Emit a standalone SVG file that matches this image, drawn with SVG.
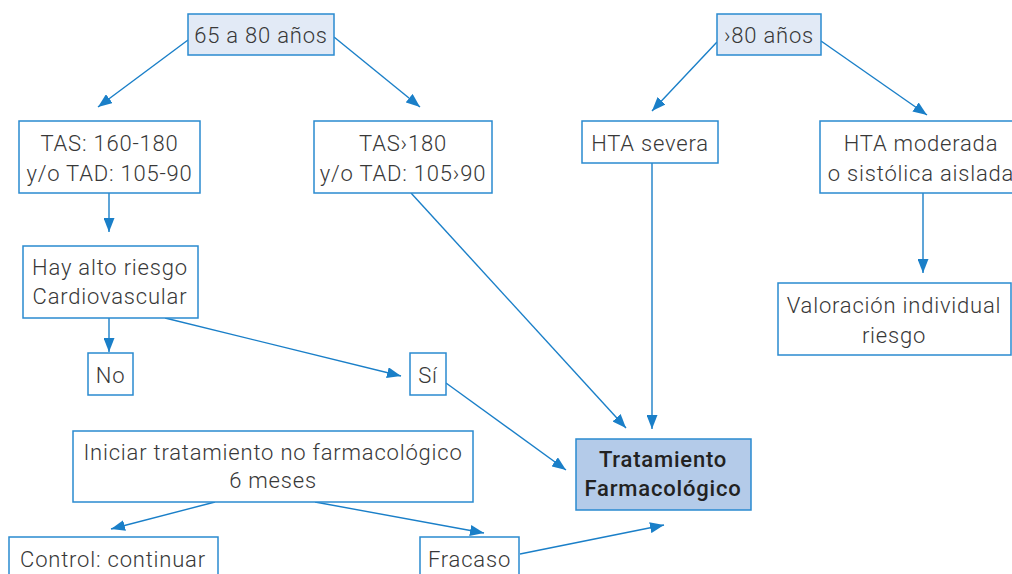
<svg xmlns="http://www.w3.org/2000/svg" width="1012" height="574" viewBox="0 0 1012 574">
  <style>
    .box { fill: #ffffff; stroke: #2a8ad0; stroke-width: 1.5; }
    .top { fill: #e2eaf6; stroke: #2a8ad0; stroke-width: 1.5; }
    .main { fill: #b4cbe9; stroke: #2a8ad0; stroke-width: 1.5; }
    text { font-family: Roboto, "Liberation Sans", sans-serif; font-size: 22px; font-weight: 300; letter-spacing: 0.8px; fill: #383838; text-anchor: middle; }
    text.b { font-weight: 500; fill: #222222; }
    .edge { stroke: #1a7fc8; stroke-width: 1.4; fill: none; marker-end: url(#arrow); }
  </style>
  <defs>
    <marker id="arrow" markerUnits="userSpaceOnUse" markerWidth="15" markerHeight="11" refX="14" refY="5.5" orient="auto">
      <path d="M0,0 L14,5.5 L0,11 z" fill="#1a7fc8"/>
    </marker>
  </defs>

  <!-- connectors -->
  <g id="connectors">
    <line class="edge" x1="188" y1="40" x2="98" y2="107"/>
    <line class="edge" x1="334" y1="37" x2="420" y2="107"/>
    <line class="edge" x1="717" y1="42" x2="652" y2="111"/>
    <line class="edge" x1="821" y1="41" x2="927" y2="115"/>
    <line class="edge" x1="109" y1="193" x2="109" y2="232"/>
    <line class="edge" x1="411" y1="193" x2="626" y2="428"/>
    <line class="edge" x1="652" y1="163" x2="652" y2="429"/>
    <line class="edge" x1="923" y1="193" x2="923" y2="273"/>
    <line class="edge" x1="109" y1="318" x2="109" y2="352"/>
    <line class="edge" x1="165" y1="318" x2="401" y2="376"/>
    <line class="edge" x1="446" y1="383" x2="566" y2="470"/>
    <line class="edge" x1="215" y1="502" x2="111" y2="529"/>
    <line class="edge" x1="315" y1="502" x2="484" y2="533"/>
    <line class="edge" x1="520" y1="554" x2="664" y2="525"/>
  </g>

  <g id="n-65-80">
    <rect class="top" x="188" y="14" width="146" height="41"/>
    <text x="261" y="43">65 a 80 años</text>
  </g>
  <g id="n-80">
    <rect class="top" x="717" y="14" width="104" height="41"/>
    <text x="769" y="43">›80 años</text>
  </g>
  <g id="n-tas160">
    <rect class="box" x="19" y="121" width="181" height="72"/>
    <text x="109.5" y="151">TAS: 160-180</text>
    <text x="109.5" y="181">y/o TAD: 105-90</text>
  </g>
  <g id="n-tas180">
    <rect class="box" x="314" y="121" width="178" height="72"/>
    <text x="403" y="151">TAS›180</text>
    <text x="403" y="181">y/o TAD: 105›90</text>
  </g>
  <g id="n-severa">
    <rect class="box" x="582" y="121" width="136" height="42"/>
    <text x="650" y="151">HTA severa</text>
  </g>
  <g id="n-moderada">
    <rect class="box" x="820" y="121" width="204" height="72"/>
    <text x="921" y="151">HTA moderada</text>
    <text x="921" y="181">o sistólica aislada</text>
  </g>
  <g id="n-riesgo">
    <rect class="box" x="23" y="246" width="175" height="72"/>
    <text x="110" y="275">Hay alto riesgo</text>
    <text x="110" y="304">Cardiovascular</text>
  </g>
  <g id="n-no">
    <rect class="box" x="88" y="353" width="45" height="42"/>
    <text x="110.5" y="383">No</text>
  </g>
  <g id="n-si">
    <rect class="box" x="410" y="353" width="36" height="42"/>
    <text x="428" y="383">Sí</text>
  </g>
  <g id="n-valoracion">
    <rect class="box" x="778" y="283" width="233" height="72"/>
    <text x="894" y="313">Valoración individual</text>
    <text x="894" y="343">riesgo</text>
  </g>
  <g id="n-tratamiento">
    <rect class="main" x="576" y="439" width="175" height="71"/>
    <text class="b" x="663" y="467">Tratamiento</text>
    <text class="b" x="663" y="496">Farmacológico</text>
  </g>
  <g id="n-iniciar">
    <rect class="box" x="73" y="431" width="400" height="71"/>
    <text x="273" y="460">Iniciar tratamiento no farmacológico</text>
    <text x="273" y="488">6 meses</text>
  </g>
  <g id="n-control">
    <rect class="box" x="9" y="537" width="209" height="60"/>
    <text x="113" y="567">Control: continuar</text>
  </g>
  <g id="n-fracaso">
    <rect class="box" x="420" y="537" width="99" height="60"/>
    <text x="469.5" y="567">Fracaso</text>
  </g>
</svg>
